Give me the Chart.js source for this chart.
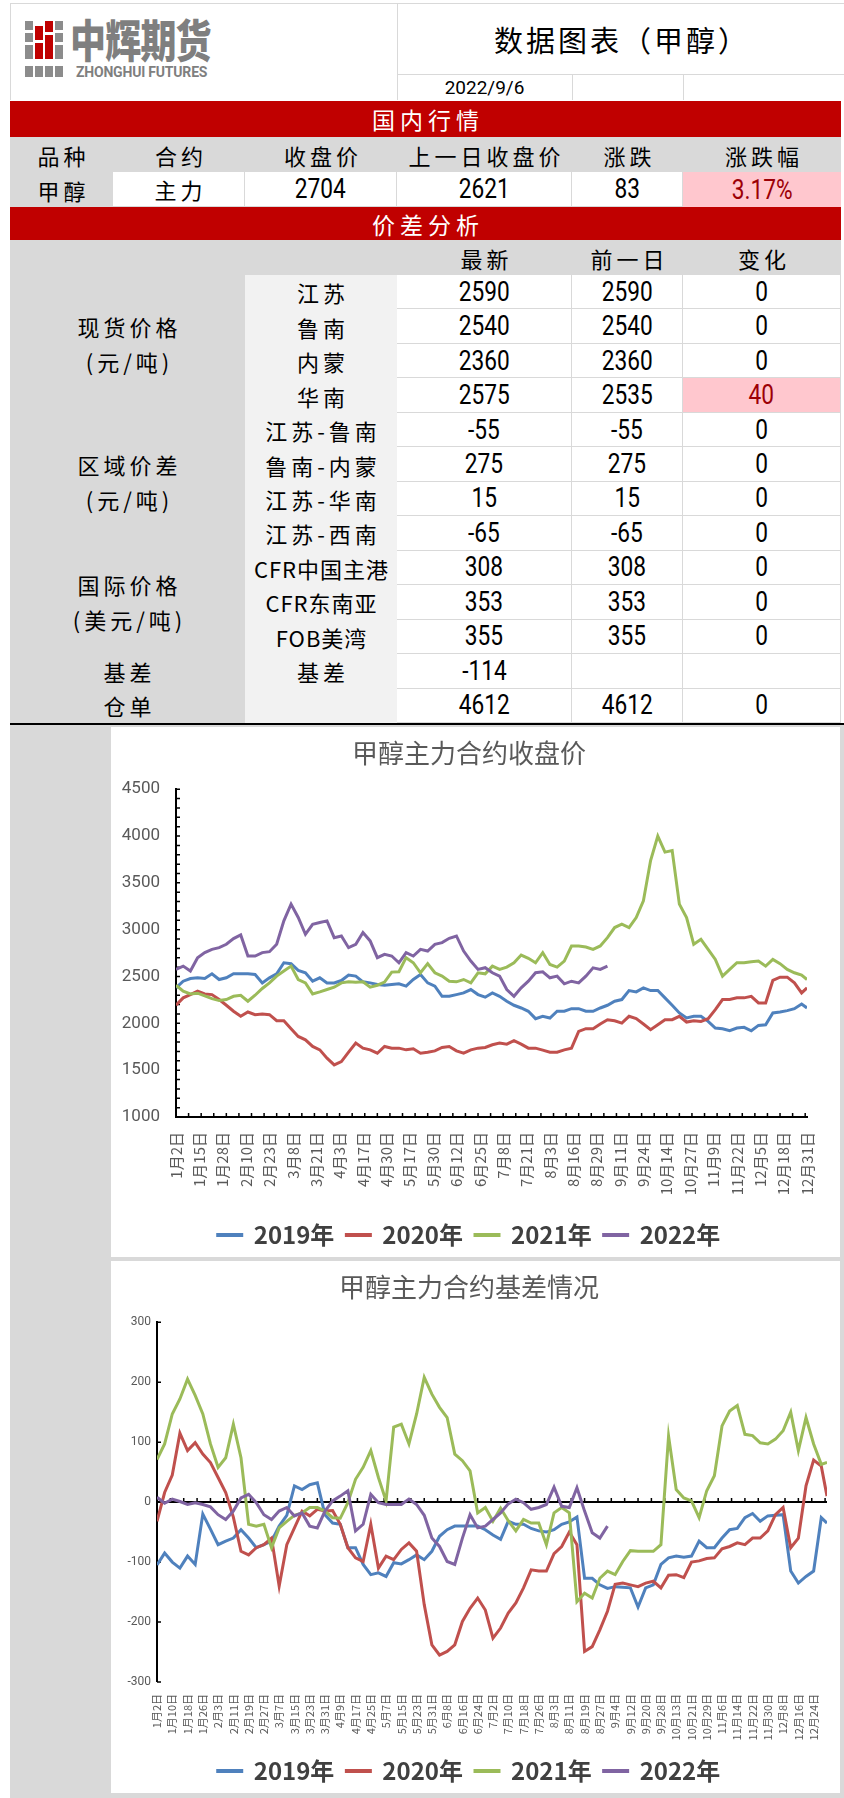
<!DOCTYPE html>
<html><head><meta charset="utf-8">
<script src="https://cdn.jsdelivr.net/npm/chart.js@4.4.0/dist/chart.umd.min.js"></script>
<style>
html,body{margin:0;padding:0;background:#fff;}
body{width:844px;height:1798px;position:relative;overflow:hidden;font-family:"Noto Sans CJK SC","Noto Sans",sans-serif;}
.c{position:absolute;box-sizing:border-box;display:flex;align-items:center;justify-content:center;white-space:nowrap;color:#000;}
.zh{font-size:22px;letter-spacing:4px;padding-left:4px;}
.num{font-family:Roboto,sans-serif;font-size:27px;}
.num span{display:inline-block;transform:scaleX(0.84);}
.cv{position:absolute;background:#fff;}
</style></head><body>
<div class="cv" style="left:10px;top:725px;width:834px;height:1073px;background:#d9d9d9"></div>
<div class="cv" style="left:111px;top:727px;width:729px;height:530px;"><canvas id="c1" width="729" height="530"></canvas></div>
<div class="cv" style="left:111px;top:1261px;width:729px;height:532px;"><canvas id="c2" width="729" height="532"></canvas></div>
<script>
// ---------- table text ----------
const headRow = ['品种','合约','收盘价','上一日收盘价','涨跌','涨跌幅'];
const mainRow = ['甲醇','主力','2704','2621','83','3.17%'];
const subHead = ['最新','前一日','变化'];
const subLabels = ['江苏','鲁南','内蒙','华南','江苏-鲁南','鲁南-内蒙','江苏-华南','江苏-西南','CFR中国主港','CFR东南亚','FOB美湾','基差',''];
const latest = ['2590','2540','2360','2575','-55','275','15','-65','308','353','355','-114','4612'];
const prevDay = ['2590','2540','2360','2535','-55','275','15','-65','308','353','355','','4612'];
const change = ['0','0','0','40','0','0','0','0','0','0','0','','0'];

// ---------- chart data ----------
const SERIES = ['2019年','2020年','2021年','2022年'];
const TICKS1 = ['1月2日','1月15日','1月28日','2月10日','2月23日','3月8日','3月21日','4月3日','4月17日','4月30日','5月17日','5月30日','6月12日','6月25日','7月8日','7月21日','8月3日','8月16日','8月29日','9月11日','9月24日','10月14日','10月27日','11月9日','11月22日','12月5日','12月18日','12月31日'];
const TICKS2 = ['1月2日','1月10日','1月18日','1月26日','2月3日','2月11日','2月19日','2月27日','3月7日','3月15日','3月23日','3月31日','4月9日','4月17日','4月25日','5月7日','5月15日','5月23日','5月31日','6月8日','6月16日','6月24日','7月2日','7月10日','7月18日','7月26日','8月3日','8月11日','8月19日','8月27日','9月4日','9月12日','9月20日','9月28日','10月13日','10月21日','10月29日','11月6日','11月14日','11月22日','11月30日','12月8日','12月16日','12月24日'];
const LABEL_EVERY1 = 13, LABEL_EVERY2 = 8;
const LAST = 351;   // last trading-day index of the year
const STEP = 4;     // values read every 4th trading day

const close2019 = [2379,2450,2479,2486,2479,2529,2468,2486,2529,2529,
 2529,2522,2432,2486,2529,2647,2637,2565,2540,2450,
 2486,2432,2432,2457,2515,2504,2443,2432,2414,2407,
 2414,2422,2397,2468,2522,2432,2397,2289,2289,2307,
 2325,2361,2307,2279,2325,2289,2236,2193,2164,2129,
 2050,2075,2057,2129,2129,2157,2157,2129,2129,2164,
 2193,2236,2254,2350,2336,2379,2350,2350,2272,2193,
 2111,2057,2075,2075,2021,1950,1942,1921,1950,1957,
 1921,1978,1985,2111,2121,2136,2157,2207,2164];
const close2020 = [2193,2272,2307,2343,2314,2307,2254,2193,2129,2075,
 2121,2093,2100,2093,2028,2028,1943,1860,1824,1753,
 1717,1628,1556,1592,1692,1789,1735,1717,1681,1753,
 1735,1735,1717,1728,1681,1692,1706,1742,1753,1706,
 1681,1717,1735,1742,1771,1789,1778,1814,1778,1735,
 1735,1714,1692,1692,1717,1735,1914,1943,1943,1993,
 2039,2028,2003,2075,2050,1993,1932,1985,2039,2039,
 2075,2014,2028,2021,2050,2146,2254,2254,2272,2272,
 2289,2218,2218,2458,2493,2493,2432,2325,2379];
const close2021 = [2407,2343,2314,2322,2293,2264,2243,2254,2289,2300,
 2236,2300,2372,2432,2504,2558,2611,2468,2432,2314,
 2336,2361,2386,2432,2443,2440,2443,2386,2407,2440,
 2547,2551,2701,2647,2540,2637,2540,2504,2450,2443,
 2468,2432,2540,2529,2611,2576,2601,2647,2729,2694,
 2647,2755,2629,2601,2665,2826,2826,2815,2790,2826,
 2915,3023,3058,3023,3130,3309,3738,4000,3828,3845,
 3273,3130,2844,2897,2790,2683,2504,2576,2647,2647,
 2658,2665,2611,2683,2637,2576,2540,2515,2468];
const close2022 = [2576,2611,2558,2701,2755,2790,2808,2844,2905,2944,
 2719,2719,2755,2765,2844,3094,3273,3130,2951,3058,
 3076,3094,2915,2933,2808,2844,2969,2880,2701,2737,
 2719,2647,2755,2719,2790,2772,2844,2862,2908,2933,
 2772,2665,2576,2594,2540,2504,2361,2289,2379,2450,
 2540,2551,2486,2504,2422,2450,2432,2504,2593,2576,
 2611];

const basis2019 = [-105,-85,-100,-110,-90,-104,-20,-45,-71,-65,
 -60,-46,-60,-76,-71,-65,-40,-22,27,21,
 29,32,-21,-35,-37,-76,-76,-104,-121,-118,
 -124,-101,-103,-96,-88,-96,-82,-57,-46,-40,
 -40,-40,-40,-46,-55,-62,-32,-37,-37,-44,
 -48,-50,-46,-37,-33,-25,-127,-127,-138,-144,
 -141,-142,-143,-175,-143,-138,-104,-93,-90,-92,
 -90,-65,-76,-76,-60,-46,-44,-26,-19,-32,
 -23,-22,-21,-115,-135,-124,-115,-26,-35];
const basis2020 = [-32,16,45,115,86,99,80,66,41,16,
 -25,-82,-88,-76,-71,-60,-140,-71,-43,-15,
 -23,-12,-15,-14,-37,-76,-93,-99,-37,-110,
 -90,-96,-79,-68,-82,-171,-238,-255,-249,-238,
 -199,-177,-160,-180,-227,-210,-185,-168,-143,-113,
 -115,-115,-86,-74,-50,-71,-249,-241,-213,-182,
 -137,-135,-138,-141,-135,-132,-143,-122,-121,-126,
 -100,-98,-94,-93,-78,-74,-68,-71,-60,-60,
 -48,-21,-9,-76,-60,27,70,60,10];
const basis2021 = [71,97,147,172,205,178,147,97,58,74,
 130,74,-37,-40,-37,-76,-43,-32,-22,-18,
 -9,-9,-15,-26,-27,-1,38,58,86,41,
 2,125,130,97,147,208,180,158,141,80,
 69,52,-18,-9,-32,-10,-31,-48,-29,-35,
 -35,-71,-18,-9,-18,-166,-152,-160,-127,-115,
 -121,-99,-81,-82,-82,-82,-71,110,21,7,
 2,-26,19,44,127,152,161,113,111,99,
 97,105,119,150,86,141,97,63,66];
const basis2022 = [8,-2,5,1,-4,-1,-4,-8,-21,-29,
 -15,7,13,-1,-21,-29,-15,-9,-23,-18,
 -40,-43,-15,2,10,19,-48,-37,13,-1,
 -4,-4,-4,5,-4,-22,-60,-74,-99,-104,
 -60,-21,-43,-40,-29,-18,-3,5,-1,-12,
 -9,-4,25,-7,-9,24,-15,-51,-60,-40];

const COLORS = ['#4f81bd','#c0504d','#9bbb59','#8064a2'];

// ---------- table drawing ----------
function box(x,y,w,h,style,text,cls){
  const d=document.createElement('div');
  d.className='c '+(cls||'');
  d.style.cssText=`left:${x}px;top:${y}px;width:${w}px;height:${h}px;`+(style||'');
  if(text!=null){
    if(cls==='num'){ const s=document.createElement('span'); s.textContent=text; d.appendChild(s); }
    else d.textContent=text;
  }
  document.body.appendChild(d); return d;
}
const LG='#d9d9d9';
// header area
box(10,3,834,1,'background:'+LG);
box(10,3,1,97,'background:'+LG);
box(397,3,1,97,'background:'+LG);
box(397,74,447,1,'background:'+LG);
box(572,74,1,26,'background:'+LG);
box(683,74,1,26,'background:'+LG);
box(397,3,447,71,'font-size:29px;letter-spacing:3px;padding-left:3px;','数据图表（甲醇）');
box(397,74,175,27,'font-family:Roboto,sans-serif;font-size:19px;','2022/9/6');
// logo
const g='#8c8c8c', r='#c00000';
[[25,g,[[21,9],[33,9],[45,14]]],[35,r,[[26,14],[43,16]]],[45,r,[[21,11],[35,24]]],[55,g,[[21,9],[33,9],[45,14]]]].forEach(([x,c,segs])=>{
  segs.forEach(([y,h])=>box(x,y,8,h,'background:'+c));
});
[25,35,45,55].forEach(x=>box(x,66,8,11,'background:'+g));
box(70,10,180,56,'justify-content:flex-start;font-size:45px;font-weight:900;color:#7f7f7f;transform:scaleX(0.8);transform-origin:left center;letter-spacing:-1px;','中辉期货');
box(76,63,150,17,'justify-content:flex-start;font-family:Roboto,sans-serif;font-size:14px;font-weight:700;color:#7f7f7f;letter-spacing:-0.2px;','ZHONGHUI FUTURES');

// red band 1
box(10,101,831,36,'background:#c00000;color:#fff;font-size:23px;letter-spacing:5px;padding-left:5px;','国内行情');
const COLS=[10,113,245,397,572,683,841];
box(10,137,831,35,'background:'+LG);
headRow.forEach((t,k)=>box(COLS[k],137,COLS[k+1]-COLS[k],35,'',t,'zh'));
mainRow.forEach((t,k)=>{
  let st='border-right:1px solid '+LG+';border-bottom:1px solid '+LG+';';
  if(k===0) st='background:'+LG+';';
  if(k===5) st='background:#ffc7ce;color:#9c0006;';
  box(COLS[k],172,COLS[k+1]-COLS[k],35,st,t,(k<2?'zh':'num'));
});
// red band 2
box(10,207,831,33,'background:#c00000;color:#fff;font-size:23px;letter-spacing:5px;padding-left:5px;','价差分析');
box(10,240,831,35,'background:'+LG);
subHead.forEach((t,k)=>box(COLS[k+3],240,COLS[k+4]-COLS[k+3],35,'',t,'zh'));
box(10,275,235,448,'background:'+LG);
box(245,275,152,448,'background:#f2f2f2');
const RH=34.46;
subLabels.forEach((t,k)=>{
  const y=275+k*RH;
  const cfr=t.indexOf('CFR')===0||t.indexOf('FOB')===0;
  box(245,y,152,RH,cfr?'letter-spacing:1px;padding-left:1px;':'',t,'zh');
  [latest,prevDay,change].forEach((arr,j)=>{
    let st='border-right:1px solid '+LG+';border-bottom:1px solid '+LG+';';
    if(j===2&&k===3) st+='background:#ffc7ce;color:#9c0006;';
    box(COLS[j+3],y,COLS[j+4]-COLS[j+3],RH,st,arr[k],'num');
  });
});
function group(lines,r0,r1){
  const y0=275+r0*RH, y1=275+r1*RH;
  const d=box(10,y0,235,y1-y0,'flex-direction:column;line-height:35px;','', 'zh');
  lines.forEach(l=>{const s=document.createElement('div');s.textContent=l;d.appendChild(s);});
}
group(['现货价格','(元/吨)'],0,4);
group(['区域价差','(元/吨)'],4,8);
group(['国际价格','(美元/吨)'],8,11);
group(['基差'],11,12);
group(['仓单'],12,13);
box(10,723,834,2,'background:#000');

// ---------- charts ----------
Chart.defaults.font.family='"Noto Sans CJK SC","Noto Sans",sans-serif';
const pts = arr => arr.map((v,k)=>({x:Math.min(k*STEP,LAST), y:v}));

const innerTicks = {
  id:'innerTicks',
  beforeDatasetsDraw(chart, args, o){
    const {ctx}=chart, x=chart.scales.x, y=chart.scales.y;
    ctx.save(); ctx.strokeStyle='#000'; ctx.lineWidth=1.5; ctx.beginPath();
    for(let v=y.min; v<=y.max+1e-6; v+=o.yStep){ const p=y.getPixelForValue(v); ctx.moveTo(x.left,p); ctx.lineTo(x.left+o.len,p); }
    const b=y.getPixelForValue(o.base);
    for(let i=x.min; i<=x.max; i+=o.xStep){ const p=x.getPixelForValue(i); ctx.moveTo(p,b); ctx.lineTo(p,b-o.len); }
    ctx.stroke(); ctx.restore();
  }
};

function makeChart(id, o){
  return new Chart(document.getElementById(id), {
    type:'line',
    data:{datasets: SERIES.map((name,k)=>({label:name, data:pts(o.data[k]), borderColor:COLORS[k], backgroundColor:COLORS[k], borderWidth:3, pointRadius:0, tension:0, fill:false, order:3-k}))},
    options:{
      responsive:false, animation:false, devicePixelRatio:1,
      layout:{padding:{left:0,right:13,top:0,bottom:0}},
      plugins:{
        title:{display:true, text:o.title, color:'#595959', font:{size:26, weight:'normal'}, padding:{top:11,bottom:o.titleBottom}},
        legend:{position:'bottom', labels:{boxWidth:24, boxHeight:1, padding:12, color:'#404040', font:{size:24, weight:'bold'}, sort:(a,b)=>a.datasetIndex-b.datasetIndex}},
        tooltip:{enabled:false},
        innerTicks:{yStep:o.minorY, xStep:7, base:o.base, len:4}
      },
      scales:{
        x:{type:'linear', min:0, max:LAST,
           afterBuildTicks:s=>{s.ticks=o.ticks.map((_,k)=>({value:k*o.every}));},
           ticks:{autoSkip:false, minRotation:90, maxRotation:90, padding:o.xPad, color:'#595959', font:{size:o.xFont}, callback:(v,i)=>o.ticks[i]},
           grid:{display:false, drawTicks:false},
           border:o.xBorder ? {color:'#000', width:2} : {display:false},
           afterFit:s=>{s.height=o.xH;}},
        y:{min:o.min, max:o.max,
           ticks:{stepSize:o.yStep, padding:o.yPad, color:'#595959', font:{size:o.yFont, family:'Roboto,sans-serif'}, callback:v=>String(v)},
           grid:o.zeroLine ? {drawTicks:false, color:c=>(c.tick&&c.tick.value===0)?'#000':'rgba(0,0,0,0)', lineWidth:c=>(c.tick&&c.tick.value===0)?2:0} : {display:false, drawTicks:false},
           border:{color:'#000', width:2},
           afterFit:s=>{s.width=o.yW;}}
      }
    },
    plugins:[innerTicks]
  });
}

makeChart('c1',{title:'甲醇主力合约收盘价', titleBottom:20, data:[close2019,close2020,close2021,close2022],
  ticks:TICKS1, every:LABEL_EVERY1, xPad:15, xFont:15, xH:94, xBorder:true,
  min:1000, max:4500, yStep:500, minorY:100, yPad:16, yFont:17, yW:65, base:1000, zeroLine:false});
makeChart('c2',{title:'甲醇主力合约基差情况', titleBottom:19, data:[basis2019,basis2020,basis2021,basis2022],
  ticks:TICKS2, every:LABEL_EVERY2, xPad:12, xFont:11, xH:65, xBorder:false,
  min:-300, max:300, yStep:100, minorY:100, yPad:6, yFont:12, yW:46, base:0, zeroLine:true});
</script>
</body></html>
